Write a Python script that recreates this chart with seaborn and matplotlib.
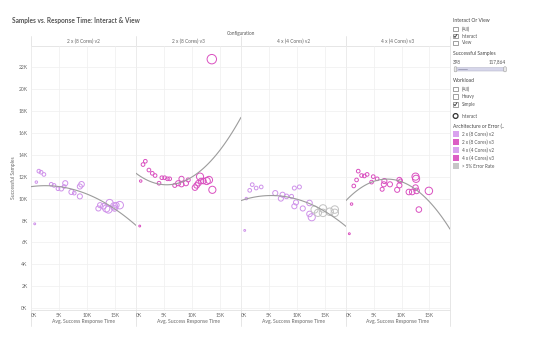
import numpy as np
import pandas as pd
import matplotlib
matplotlib.use("Agg")
import matplotlib.pyplot as plt
import seaborn as sns
from matplotlib.patches import Rectangle, FancyBboxPatch, Circle
from matplotlib.lines import Line2D

# ---- data -------------------------------------------------------------
configs = ["2 x (8 Cores) v2", "2 x (8 Cores) v3", "4 x (4 Cores) v2", "4 x (4 Cores) v3"]

# 2 x (8 Cores) v2
c1_time = [660, 950, 1400, 1800, 2300, 3600, 4100, 4800, 5400, 5900, 6100, 7200, 7700,
           8700, 9000, 8700, 12000, 12300, 12900, 13400, 14000, 13800, 14800, 15200, 15800, 14900]
c1_samples = [7700, 11500, 12500, 12400, 12200, 11300, 11200, 10900, 10900, 11100, 11400, 10600, 10500,
              11100, 11300, 10200, 9100, 9400, 9300, 9100, 9600, 9000, 9300, 9400, 9400, 9100]
c1_users = [1, 2, 5, 5, 5, 5, 5, 5, 8, 5, 10, 10, 5,
            10, 12, 10, 10, 10, 12, 20, 20, 20, 20, 12, 22, 12]
c1_error = [0] * 26

# 2 x (8 Cores) v3
c2_time = [660, 840, 1250, 1660, 2300, 2900, 3400, 4100, 4600, 5100, 5600, 6000, 6900, 7500,
           8100, 8100, 8900, 9300, 10500, 10800, 11400, 11100, 12000, 12600, 13000, 13600, 11600, 13500]
c2_samples = [7500, 11600, 13100, 13400, 12600, 12300, 12100, 11400, 11900, 11900, 11800, 11800, 11200, 11400,
              11300, 11800, 11400, 11700, 11000, 11200, 12000, 11400, 11600, 11600, 11700, 10800, 11600, 22700]
c2_users = [1, 2, 5, 5, 5, 5, 5, 5, 5, 5, 5, 5, 6, 10,
            10, 10, 10, 6, 12, 12, 20, 12, 12, 20, 20, 20, 12, 35]
c2_error = [0] * 28

# 4 x (4 Cores) v2
c3_time = [660, 950, 1550, 2000, 2700, 3600, 6100, 7100, 7400, 8100, 9000, 9500, 10400,
           9500, 9800, 11000, 12200, 12200, 12600,
           13100, 14600, 14600, 15800, 16700, 16700, 13700]
c3_samples = [7100, 10000, 10750, 11270, 10960, 11060, 10500, 10000, 10350, 10200, 10200, 10960, 11060,
              9300, 9650, 9100, 9600, 8600, 8300,
              9000, 9100, 8700, 8800, 9000, 8700, 8700]
c3_users = [1, 2, 5, 5, 5, 5, 10, 10, 10, 8, 6, 6, 6,
            10, 10, 10, 12, 12, 20,
            20, 22, 22, 22, 22, 22, 20]
c3_error = [0] * 19 + [1] * 7

# 4 x (4 Cores) v3
c4_time = [600, 1000, 1400, 1900, 2200, 2800, 3300, 3800, 4600, 4900, 5600, 6500, 6800, 6900,
           7900, 9200, 9600, 9600, 9800, 11300, 11900, 12500, 12700, 12500, 12600, 14900, 13100]
c4_samples = [6800, 9500, 11150, 11700, 12500, 12100, 12060, 12200, 11500, 12000, 11800, 10850, 11300, 11600,
              11300, 10800, 11200, 11700, 11600, 10600, 10600, 11000, 10700, 12000, 11800, 10700, 9000]
c4_users = [1, 2, 5, 5, 5, 5, 5, 5, 5, 5, 5, 6, 10, 10,
            10, 10, 10, 10, 6, 12, 12, 12, 12, 20, 20, 22, 12]
c4_error = [0] * 27

legend_labels = ["2 x (8 Cores) v2", "2 x (8 Cores) v3", "4 x (4 Cores) v2",
                 "4 x (4 Cores) v3", "> 5% Error Rate"]
legend_colors = ["#d9a2ee", "#dc5ec4", "#d9a2ee", "#dc5ec4", "#c6c6c6"]
point_colors = {"2 x (8 Cores) v2": "#cf92ea", "2 x (8 Cores) v3": "#da50c0",
                "4 x (4 Cores) v2": "#cf92ea", "4 x (4 Cores) v3": "#da50c0",
                "> 5% Error Rate": "#c2c2c2"}

y_ticks = [0, 2000, 4000, 6000, 8000, 10000, 12000, 14000, 16000, 18000, 20000, 22000]
y_tick_labels = ["0K", "2K", "4K", "6K", "8K", "10K", "12K", "14K", "16K", "18K", "20K", "22K"]
x_ticks = [0, 5000, 10000, 15000]
x_tick_labels = ["0K", "5K", "10K", "15K"]

frames = []
for cfg, t, s, u, e in zip(configs,
                           [c1_time, c2_time, c3_time, c4_time],
                           [c1_samples, c2_samples, c3_samples, c4_samples],
                           [c1_users, c2_users, c3_users, c4_users],
                           [c1_error, c2_error, c3_error, c4_error]):
    d = pd.DataFrame({"time": t, "samples": s, "users": u, "error": e})
    d["config"] = cfg
    d["group"] = np.where(d["error"] == 1, "> 5% Error Rate", cfg)
    frames.append(d)
df = pd.concat(frames, ignore_index=True)

# ---- figure -----------------------------------------------------------
sns.set_style("white")
plt.rcParams["font.family"] = ["Lato", "DejaVu Sans"]

W, H = 540, 342
fig = plt.figure(figsize=(W / 100, H / 100), dpi=100)

edges = [31, 136, 241, 346, 450]
top_px, bot_px = 46, 310
grey_txt = "#666666"

# background layer in pixel coordinates: frame lines, headers, side panel
ov = fig.add_axes([0, 0, 1, 1], facecolor="none", zorder=0)
ov.set_xlim(0, W)
ov.set_ylim(H, 0)
ov.axis("off")

axes = []
for i, cfg in enumerate(configs):
    ax = fig.add_axes([edges[i] / W, 1 - bot_px / H,
                       (edges[i + 1] - edges[i]) / W, (bot_px - top_px) / H],
                      facecolor="none", zorder=1)
    sub = df[df["config"] == cfg]
    ax.set_xlim(0, 18700)
    ax.set_ylim(-150, 23900)
    ax.set_xticks(x_ticks)
    ax.set_yticks(y_ticks)
    ax.grid(True, color="#efefef", lw=0.5)
    ax.set_axisbelow(True)

    sns.regplot(data=sub, x="time", y="samples", order=2, ci=None, scatter=False,
                truncate=False, ax=ax, line_kws=dict(color="#9c9c9c", lw=0.8))
    sns.scatterplot(data=sub, x="time", y="samples", hue="group", palette=point_colors,
                    size="users", sizes=(1.8, 46), size_norm=(1, 35),
                    legend=False, ax=ax, linewidth=0.7)
    coll = ax.collections[-1]
    coll.set_edgecolors(coll.get_facecolors())
    coll.set_facecolors("none")

    ax.set_xlim(0, 18700)
    ax.set_ylim(-150, 23900)
    ax.set_xticklabels(x_tick_labels)
    if i == 0:
        ax.set_yticklabels(y_tick_labels)
    else:
        ax.set_yticklabels([])
    ax.tick_params(length=0, labelsize=3.6, labelcolor=grey_txt, pad=2.5)
    ax.get_xticklabels()[0].set_horizontalalignment("left")
    ax.set_xlabel("")
    ax.set_ylabel("")
    for sp in ax.spines.values():
        sp.set_visible(False)
    axes.append(ax)

line_c = "#e2e2e2"
for x in edges:
    ov.add_line(Line2D([x, x], [36, 326], color=line_c, lw=0.6))
ov.add_line(Line2D([edges[0], edges[-1]], [top_px, top_px], color=line_c, lw=0.6))
ov.add_line(Line2D([edges[0], edges[-1]], [bot_px, bot_px], color=line_c, lw=0.6))

ov.text(12, 21, "Samples vs. Response Time: Interact & View", fontsize=4.7,
        fontweight="bold", color="#555555", va="center", ha="left")
ov.text((edges[0] + edges[-1]) / 2, 33, "Configuration", fontsize=3.3,
        color="#555555", ha="center", va="center")
for i, cfg in enumerate(configs):
    cx = (edges[i] + edges[i + 1]) / 2
    ov.text(cx, 41, cfg, fontsize=3.4, color=grey_txt, ha="center", va="center")
    ov.text(cx, 322, "Avg. Success Response Time", fontsize=3.6, color=grey_txt,
            ha="center", va="center")
ov.text(14, 178, "Successful Samples", fontsize=3.6, color=grey_txt, rotation=90,
        ha="center", va="center")

# ---- side panel -------------------------------------------------------
hdr_c = "#444444"
item_c = "#555555"
fs_h, fs_i = 3.6, 3.3
lx = 453


def checkbox(y, label, checked):
    ov.add_patch(Rectangle((lx, y - 2.3), 4.6, 4.6, fill=False, ec="#7a7a7a", lw=0.5))
    if checked:
        ov.add_line(Line2D([lx + 0.9, lx + 2.0, lx + 3.9], [y, y + 1.5, y - 1.6],
                           color="#333333", lw=0.6))
    ov.text(lx + 9, y, label, fontsize=fs_i, color=item_c, va="center", ha="left")


ov.text(lx, 20, "Interact Or View", fontsize=fs_h, color=hdr_c, va="center")
checkbox(29, "(All)", False)
checkbox(36, "Interact", True)
checkbox(43, "View", False)

ov.text(lx, 53, "Successful Samples", fontsize=fs_h, color=hdr_c, va="center")
ov.text(lx, 62, "398", fontsize=fs_i, color=item_c, va="center", ha="left")
ov.text(506, 62, "117,864", fontsize=fs_i, color=item_c, va="center", ha="right")
ov.add_patch(FancyBboxPatch((456, 67.6), 49, 3.4, boxstyle="round,pad=0,rounding_size=1.5",
                            fc="#d6d6ea", ec="#b8b8cc", lw=0.4))
ov.add_line(Line2D([458, 467], [69.3, 69.3], color="#8f8fa8", lw=0.5))
for hx in (455.5, 505):
    ov.add_patch(FancyBboxPatch((hx - 1.3, 66.8), 2.6, 5, boxstyle="round,pad=0,rounding_size=1",
                                fc="#e8e8e8", ec="#a0a0a0", lw=0.4))

ov.text(lx, 80, "Workload", fontsize=fs_h, color=hdr_c, va="center")
checkbox(89, "(All)", False)
checkbox(96.7, "Heavy", False)
checkbox(104.3, "Simple", True)

ov.add_patch(Circle((lx + 2.6, 116), 2.4, fill=False, ec="#333333", lw=0.9))
ov.text(lx + 9, 116, "Interact", fontsize=fs_i, color=item_c, va="center", ha="left")

ov.text(lx, 126.7, "Architecture or Error (..", fontsize=fs_h, color=hdr_c, va="center")
for k, (lab, col) in enumerate(zip(legend_labels, legend_colors)):
    y = 134 + k * 8
    ov.add_patch(Rectangle((lx, y - 2.8), 5.6, 5.6, fc=col, ec="none"))
    ov.text(lx + 9, y, lab, fontsize=fs_i, color=item_c, va="center", ha="left")

fig.savefig("out.png", dpi=100)
